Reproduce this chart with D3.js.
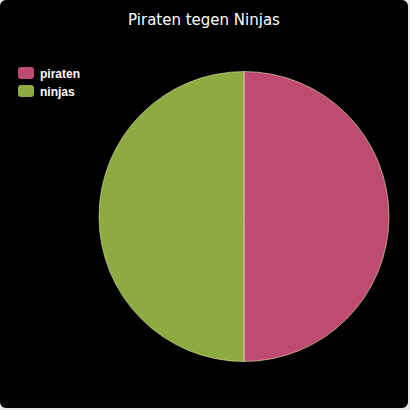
<!DOCTYPE html>
<html>
<head>
<meta charset="utf-8">
<script src="https://cdn.jsdelivr.net/npm/d3@7"></script>
<style>
  html, body { margin: 0; padding: 0; background: #e8e8e8; }
  svg { display: block; }
</style>
</head>
<body>
<div id="chart"></div>
<script>
const categories = ["piraten", "ninjas"];
const values = [50, 50];
const colors = ["#bf4a72", "#8eab41"];
const titleText = "Piraten tegen Ninjas";

function init() {
    const width = 410, height = 410;

    const svg = d3.select("#chart")
                  .append("svg")
                  .attr("width", width)
                  .attr("height", height);

    // dark panel
    svg.append("rect")
       .attr("x", 0)
       .attr("y", 0)
       .attr("width", 408)
       .attr("height", 408)
       .attr("rx", 6)
       .attr("fill", "#000");

    // title
    svg.append("text")
       .attr("x", 204)
       .attr("y", 25)
       .attr("text-anchor", "middle")
       .style("font-family", "'DejaVu Sans', sans-serif")
       .style("font-size", "15px")
       .attr("fill", "#fff")
       .text(titleText);

    const data = categories.map((c, i) => ({ name: c, value: values[i] }));

    const color = d3.scaleOrdinal()
                    .domain(categories)
                    .range(colors);

    const pie = d3.pie()
                  .sort(null)
                  .value(d => d.value);

    const arc = d3.arc()
                  .innerRadius(0)
                  .outerRadius(145);

    const g = svg.append("g")
                 .attr("transform", "translate(244, 216.5)");

    g.selectAll("path")
     .data(pie(data))
     .enter()
     .append("path")
     .attr("d", arc)
     .attr("fill", d => color(d.data.name))
     .attr("stroke", "#e8e8b0")
     .attr("stroke-width", 0.6)
     .attr("stroke-linejoin", "round");

    // legend
    const legend = svg.append("g")
                      .attr("transform", "translate(18, 67)");

    data.forEach((d, i) => {
        const row = legend.append("g")
                          .attr("transform", `translate(0, ${i * 18})`);
        row.append("rect")
           .attr("width", 16)
           .attr("height", 12)
           .attr("rx", 3)
           .attr("fill", color(d.name));
        row.append("text")
           .attr("x", 22)
           .attr("y", 10.5)
           .style("font-family", "'Liberation Sans', sans-serif")
           .style("font-size", "12px")
           .style("font-weight", "bold")
           .attr("fill", "#fff")
           .text(d.name);
    });
}
window.onload = init;
</script>
</body>
</html>
